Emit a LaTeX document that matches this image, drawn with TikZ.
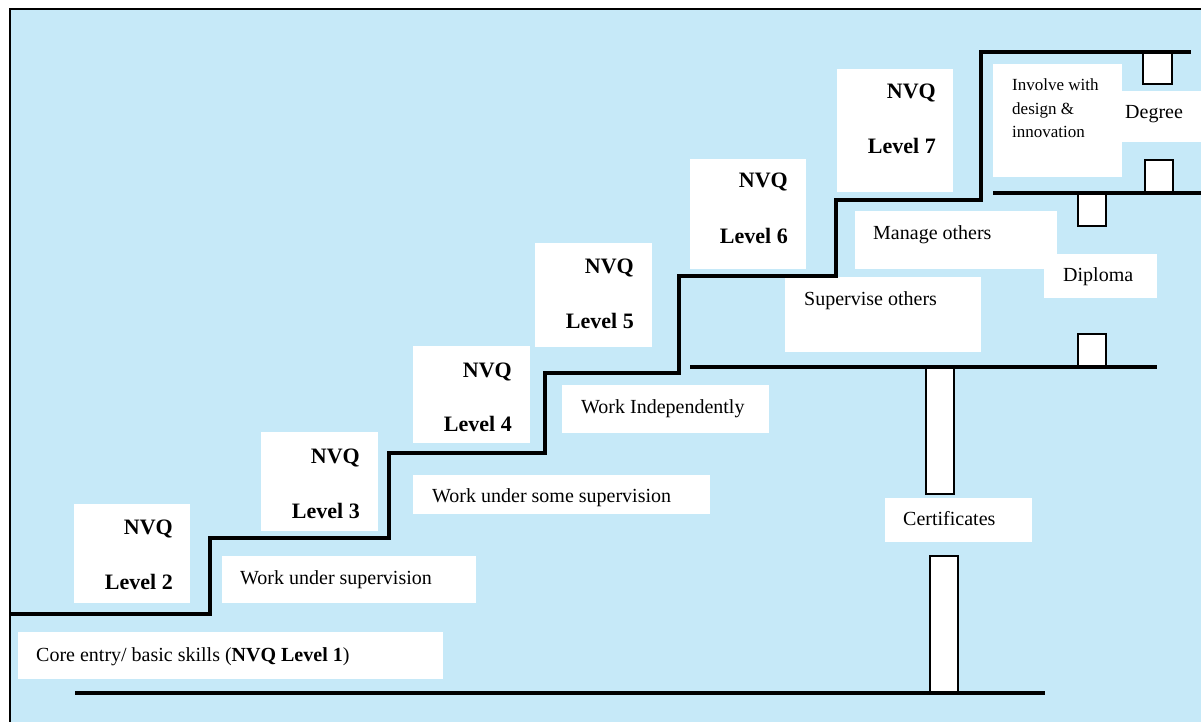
\documentclass[tikz,border=0pt]{standalone}
\usepackage{fontspec}
\setmainfont{Liberation Serif}
\definecolor{sky}{RGB}{198,233,248}
\begin{document}
\begin{tikzpicture}[x=1pt,y=-1pt,
  panel/.style={fill=white},
  tab/.style={draw=black, fill=white, line width=1.3pt},
  rail/.style={line width=3.6pt, line cap=butt},
  stair/.style={line width=3.6pt, line join=miter},
  txt/.style={inner sep=0pt, font=\fontsize{20}{24}\selectfont},
  lvl/.style={inner sep=0pt, font=\fontsize{22}{26}\selectfont\bfseries},
  note/.style={inner sep=0pt, font=\fontsize{17}{23.5}\selectfont, align=left}]
\useasboundingbox (0,0) rectangle (1201,722);
% sky panel with its top and left frame
\fill[sky] (10,9) rectangle (1201,722);
\draw[line width=2pt] (10,722) -- (10,9) -- (1201,9);

% white label panels
\fill[panel] (18,632) rectangle (443,679);
\fill[panel] (74,504) rectangle (190,603);
\fill[panel] (222,556) rectangle (476,603);
\fill[panel] (261,432) rectangle (378,531);
\fill[panel] (413,475) rectangle (710,514);
\fill[panel] (413,346) rectangle (530,443);
\fill[panel] (562,385) rectangle (769,433);
\fill[panel] (535,243) rectangle (652,347);
\fill[panel] (690,159) rectangle (806,269);
\fill[panel] (837,69) rectangle (953,192);
\fill[panel] (855,211) rectangle (1057,269);
\fill[panel] (1044,254) rectangle (1157,298);
\fill[panel] (785,277) rectangle (981,352);
\fill[panel] (885,498) rectangle (1032,542);
\fill[panel] (993,64) rectangle (1122,177);
\fill[panel] (1122,91) rectangle (1201,142);

% posts and tabs between the shelves
\draw[tab] (1143,52) rectangle (1172,84);
\draw[tab] (1145,160) rectangle (1173,193);
\draw[tab] (1078,194) rectangle (1106,226);
\draw[tab] (1078,334) rectangle (1106,367);
\draw[tab] (926,368) rectangle (954,494);
\draw[tab] (930,556) rectangle (958,693);

% shelves
\draw[rail] (75,693) -- (1045,693);
\draw[rail] (690,367) -- (1157,367);
\draw[rail] (993,193) -- (1201,193);

% the staircase
\draw[stair] (9,614) -- (210,614) -- (210,538) -- (389,538) -- (389,453)
  -- (545,453) -- (545,373) -- (679,373) -- (679,276) -- (836,276)
  -- (836,200) -- (981,200) -- (981,52) -- (1191,52);

% texts
\node[txt, anchor=base west] (core) at (36,661) {Core entry/ basic skills (\textbf{NVQ Level 1})};
\node[lvl, anchor=base east] (n2a) at (173,534) {NVQ};
\node[lvl, anchor=base east] (n2b) at (173,589) {Level 2};
\node[txt, anchor=base west] (wus) at (240,584) {Work under supervision};
\node[lvl, anchor=base east] (n3a) at (360,463) {NVQ};
\node[lvl, anchor=base east] (n3b) at (360,518) {Level 3};
\node[txt, anchor=base west] (wuss) at (432,502) {Work under some supervision};
\node[lvl, anchor=base east] (n4a) at (512,377) {NVQ};
\node[lvl, anchor=base east] (n4b) at (512,431) {Level 4};
\node[txt, anchor=base west] (wi) at (581,413) {Work Independently};
\node[lvl, anchor=base east] (n5a) at (634,273) {NVQ};
\node[lvl, anchor=base east] (n5b) at (634,328) {Level 5};
\node[lvl, anchor=base east] (n6a) at (788,188) {NVQ};
\node[lvl, anchor=base east] (n6b) at (788,243) {Level 6};
\node[lvl, anchor=base east] (n7a) at (936,99) {NVQ};
\node[lvl, anchor=base east] (n7b) at (936,154) {Level 7};
\node[txt, anchor=base west] (so) at (804,305) {Supervise others};
\node[txt, anchor=base west] (mo) at (873,239) {Manage others};
\node[txt, anchor=base west] (dip) at (1063,281) {Diploma};
\node[txt, anchor=base west] (cert) at (903,525) {Certificates};
\node[note, anchor=north west] (inv) at (1012,79) {Involve with\\design \&\\innovation};
\node[txt, anchor=base west] (deg) at (1125,119) {Degree};
\end{tikzpicture}
\end{document}
